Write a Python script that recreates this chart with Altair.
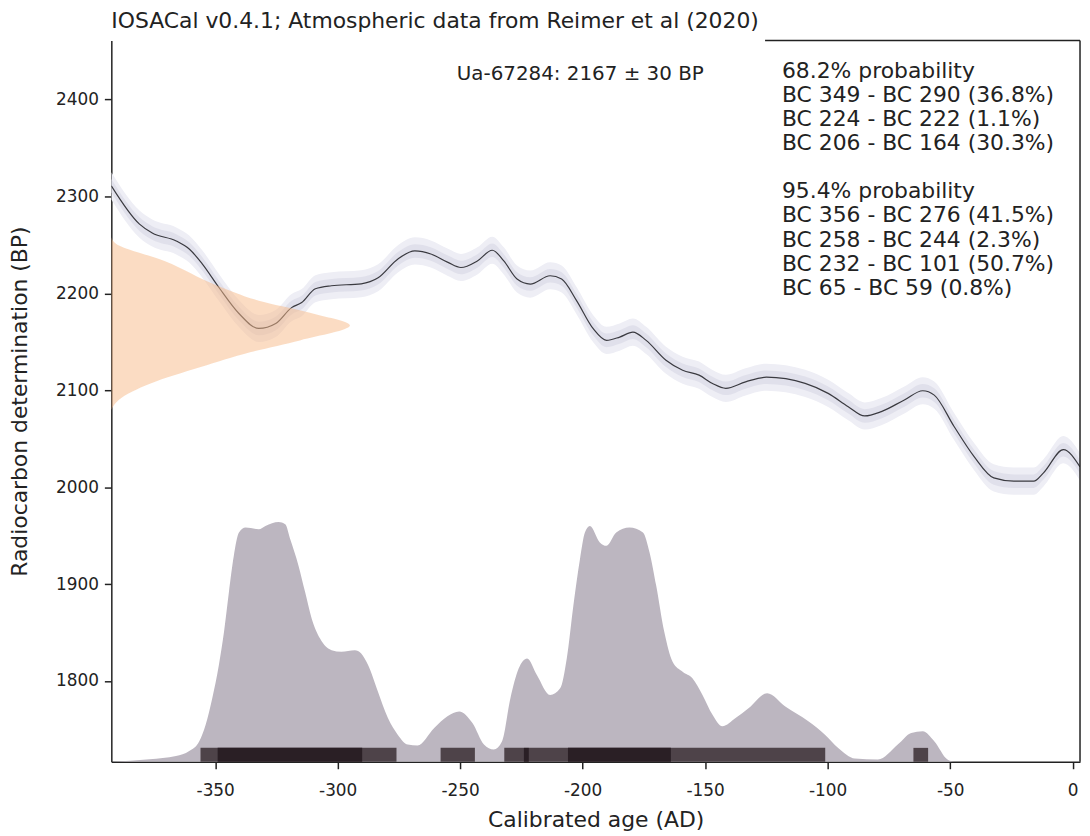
import altair as alt
import pandas as pd

# ---------------- data ----------------
X_MIN, X_MAX = -392.4, 3.0
Y_MIN, Y_MAX = 1716.6, 2461.0

# calibration curve (IntCal20), calendar year AD vs radiocarbon BP
curve_year = [-392.4, -380.9, -375.7, -365.9, -360.6, -355.3, -348.4, -340.3, -332.2,
              -325.3, -318.8, -314.7, -309.1, -302.6, -290.4, -283.5, -275.4, -268.5,
              -262.0, -255.0, -249.7, -243.0, -236.9, -232.2, -226.8, -221.4, -213.3,
              -208.6, -202.5, -195.7, -190.3, -184.9, -179.5, -174.1, -166.0, -159.2,
              -152.5, -147.0, -141.6, -133.5, -125.0, -109.2, -99.8, -91.6, -84.9,
              -78.1, -68.7, -61.2, -56.5, -48.4, -40.3, -32.2, -24.0, -15.9, -11.9,
              -3.8, 3.0]
curve_bp = [2311.0, 2271.5, 2262.3, 2254.1, 2245.8, 2230.5, 2205.8, 2179.2, 2163.8,
            2168.9, 2185.3, 2190.5, 2204.8, 2207.9, 2209.9, 2216.1, 2235.6, 2243.8,
            2240.7, 2232.0, 2226.7, 2233.5, 2244.5, 2233.5, 2214.8, 2209.6, 2218.2,
            2214.8, 2192.5, 2163.5, 2151.5, 2154.9, 2160.0, 2151.5, 2131.0, 2120.7,
            2115.6, 2107.0, 2102.0, 2108.7, 2113.5, 2107.1, 2096.8, 2083.1, 2073.5,
            2078.0, 2090.0, 2099.5, 2095.0, 2062.6, 2031.8, 2009.6, 2006.2, 2006.2,
            2014.8, 2038.7, 2021.0]

# measured radiocarbon age distribution (drawn sideways from the left edge)
sample_bp = [2258, 2252, 2233.5, 2208, 2191, 2179, 2167, 2151.5, 2139.5, 2124, 2107, 2090, 2080]
sample_width = [0, 1.5, 21.7, 43.3, 62.3, 82.6, 97.4, 77, 57, 36.5, 16, 3, 0]

# calibrated probability density (top of silhouette, in BP-axis units)
dens_year = [-392.4, -376.8, -366.0, -360.6, -356.5, -353.9, -351.2, -348.5, -346.4, -344.4,
             -342.4, -340.3, -337.6, -332.2, -329.5, -324.1, -321.4, -319.4, -316.0, -313.3,
             -310.6, -307.2, -302.5, -298.5, -293.0, -290.4, -287.6, -283.6, -279.5, -275.5,
             -271.4, -267.4, -260.6, -255.2, -250.4, -245.0, -240.3, -236.3, -232.9, -229.5,
             -226.1, -222.7, -218.7, -213.3, -209.2, -206.5, -203.8, -201.1, -199.1, -197.1,
             -193.0, -190.3, -186.3, -180.9, -175.4, -172.7, -170.0, -166.7, -163.3, -159.2,
             -155.2, -151.1, -147.0, -143.0, -137.6, -132.2, -124.7, -117.3, -107.9, -101.1,
             -95.7, -88.9, -79.5, -71.4, -65.9, -61.2, -56.5, -51.1, -48.4]
dens_top = [1716.6, 1719.2, 1722.5, 1727.6, 1737.8, 1754.9, 1782.2, 1816.4, 1850.7, 1891.7,
            1929.2, 1953.2, 1958.4, 1956.6, 1960.0, 1964.1, 1961.7, 1946.4, 1919.0, 1891.7,
            1864.3, 1843.8, 1831.8, 1830.2, 1831.8, 1828.4, 1816.4, 1789.1, 1761.7, 1744.6,
            1734.4, 1733.5, 1751.5, 1763.5, 1768.6, 1756.6, 1734.4, 1729.2, 1737.8, 1782.2,
            1813.0, 1823.3, 1806.2, 1785.6, 1792.5, 1823.3, 1877.9, 1925.8, 1953.2, 1960.0,
            1943.0, 1939.5, 1953.2, 1958.4, 1953.2, 1932.7, 1898.5, 1850.7, 1819.9, 1809.6,
            1802.8, 1785.6, 1765.1, 1753.2, 1761.7, 1772.0, 1787.4, 1773.7, 1758.4, 1744.6,
            1730.9, 1720.0, 1718.9, 1734.4, 1746.4, 1748.1, 1737.8, 1718.9, 1716.6]

# highest density ranges
r95_start = [-356, -258, -232, -65]
r95_end = [-276, -244, -101, -59]
r68_start = [-349, -224, -206]
r68_end = [-290, -222, -164]

title_text = "IOSACal v0.4.1; Atmospheric data from Reimer et al (2020)"
sample_label = "Ua-67284: 2167 \u00b1 30 BP"
range68_lines = ["68.2% probability", "BC 349 - BC 290 (36.8%)", "BC 224 - BC 222 (1.1%)",
                 "BC 206 - BC 164 (30.3%)"]
range95_lines = ["95.4% probability", "BC 356 - BC 276 (41.5%)", "BC 258 - BC 244 (2.3%)",
                 "BC 232 - BC 101 (50.7%)", "BC 65 - BC 59 (0.8%)"]
x_ticks = [-350, -300, -250, -200, -150, -100, -50, 0]
y_ticks = [1800, 1900, 2000, 2100, 2200, 2300, 2400]

# ---------------- chart ----------------
W, H = 975, 726
FONT = "DejaVu Sans"
BAND = 14
LH = 24.2

curve_df = pd.DataFrame({"year": curve_year, "bp": curve_bp})
curve_df["lo"] = curve_df["bp"] - BAND
curve_df["hi"] = curve_df["bp"] + BAND
curve_df["lo2"] = curve_df["bp"] - BAND / 2
curve_df["hi2"] = curve_df["bp"] + BAND / 2

sample_df = pd.DataFrame({"bp": sample_bp, "w": sample_width})
sample_df["xl"] = X_MIN
sample_df["xr"] = X_MIN + sample_df["w"]

dens_df = pd.DataFrame({"year": dens_year, "top": dens_top})
dens_df["base"] = Y_MIN

r95_df = pd.DataFrame({"s": r95_start, "e": r95_end})
r68_df = pd.DataFrame({"s": r68_start, "e": r68_end})

xs = alt.Scale(domain=[X_MIN, X_MAX], nice=False, zero=False)
ys = alt.Scale(domain=[Y_MIN, Y_MAX], nice=False, zero=False)
xax = alt.Axis(values=x_ticks, title="Calibrated age (AD)", labelExpr="'' + datum.value",
               labelPadding=14, titlePadding=11)
yax = alt.Axis(values=y_ticks, title="Radiocarbon determination (BP)", labelExpr="'' + datum.value",
               labelPadding=6, titlePadding=24)


def X(field):
    return alt.X(field, type="quantitative", scale=xs, axis=xax)


def Y(field):
    return alt.Y(field, type="quantitative", scale=ys, axis=yax)


band_outer = alt.Chart(curve_df).mark_area(color="#eeeef5", clip=True, interpolate="monotone").encode(
    x=X("year"), y=Y("lo"), y2="hi")
band_inner = alt.Chart(curve_df).mark_area(color="#e0e0eb", clip=True, interpolate="monotone").encode(
    x=X("year"), y=Y("lo2"), y2="hi2")
curve_line = alt.Chart(curve_df).mark_line(color="#3a3a40", strokeWidth=1.2, clip=True,
                                           interpolate="monotone").encode(x=X("year"), y=Y("bp"))

sample_area = alt.Chart(sample_df).mark_area(orient="horizontal", color="#f7b987", opacity=0.5,
                                             clip=True, interpolate="monotone").encode(
    y=Y("bp"), x=X("xr"), x2="xl")

density = alt.Chart(dens_df).mark_area(color="#bcb6c0", clip=True, interpolate="monotone").encode(
    x=X("year"), y=Y("top"), y2="base")

bars95 = alt.Chart(r95_df).mark_rect(color="#4e4349").encode(
    x=X("s"), x2="e", y=alt.value(H - 14), y2=alt.value(H))
bars68 = alt.Chart(r68_df).mark_rect(color="#2a1f25").encode(
    x=X("s"), x2="e", y=alt.value(H - 14), y2=alt.value(H))

one = pd.DataFrame({"k": [0]})
right_spine = alt.Chart(one).mark_rule(color="#222", strokeWidth=1.5).encode(
    x=alt.value(W), y=alt.value(0), y2=alt.value(H))
top_spine = alt.Chart(one).mark_rule(color="#222", strokeWidth=1.5).encode(
    x=alt.value(658), x2=alt.value(W), y=alt.value(0))

title = alt.Chart(one).mark_text(text=title_text, font=FONT, fontSize=22, align="left",
                                 baseline="middle", color="#222").encode(
    x=alt.value(0), y=alt.value(-20))
sample_txt = alt.Chart(one).mark_text(text=sample_label, font=FONT, fontSize=20, align="center",
                                      baseline="middle", color="#222").encode(
    x=alt.value(472), y=alt.value(34))
ranges68_txt = alt.Chart(one).mark_text(text=range68_lines, font=FONT, fontSize=22, align="left",
                                        baseline="top", lineHeight=LH, color="#222").encode(
    x=alt.value(675), y=alt.value(21))
ranges95_txt = alt.Chart(one).mark_text(text=range95_lines, font=FONT, fontSize=22, align="left",
                                        baseline="top", lineHeight=LH, color="#222").encode(
    x=alt.value(675), y=alt.value(21 + 5 * LH))

chart = alt.layer(
    band_outer, band_inner, curve_line, sample_area, density, bars95, bars68,
    right_spine, top_spine, title, sample_txt, ranges68_txt, ranges95_txt
).properties(
    width=W, height=H,
    autosize=alt.AutoSizeParams(type="none"),
    padding={"left": 104, "top": 30, "right": 2, "bottom": 70},
).configure_view(stroke=None).configure_axis(
    grid=False, domainColor="#222", tickColor="#222", labelColor="#222", titleColor="#222",
    labelFont=FONT, titleFont=FONT, labelFontSize=17, titleFontSize=22, titleFontWeight="normal",
    tickSize=7, domainWidth=1.5, tickWidth=1.5,
)

chart.save("out.html", embed_options={"renderer": "svg", "actions": False})
